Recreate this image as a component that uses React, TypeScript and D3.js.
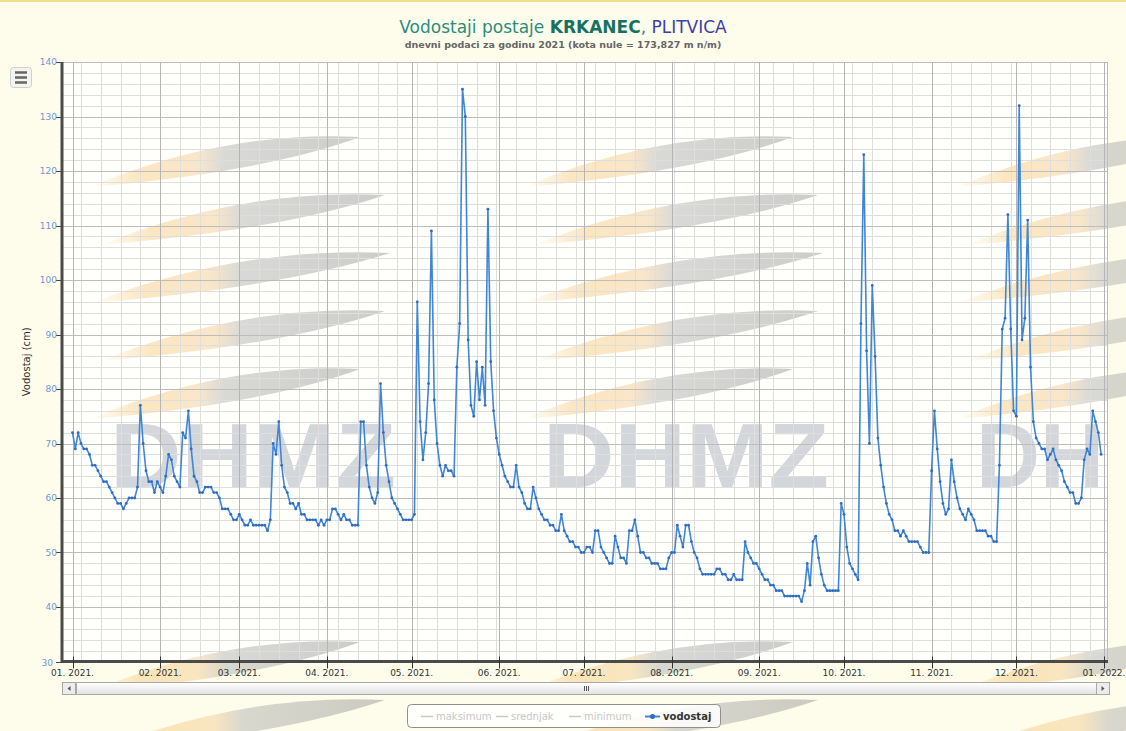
import React from 'react';
import * as d3 from 'd3';

const useD3 = (renderChart: any, dependencies: any[]) => {
  const ref = React.useRef<SVGSVGElement>(null);

  React.useEffect(() => {
    renderChart(d3.select(ref.current));
  }, dependencies);

  return ref;
};

// daily water level (cm), 2021, one array per month
const jan = [72, 69, 72, 70, 69, 69, 68, 66, 66, 65, 64, 63, 63, 62, 61, 60, 59, 59, 58, 59, 60, 60, 60, 62, 77, 70, 65, 63, 63, 61, 63];
const feb = [62, 61, 64, 68, 67, 64, 63, 62, 72, 71, 76, 69, 64, 63, 61, 61, 62, 62, 62, 61, 61, 60, 58, 58, 58, 57, 56, 56];
const mar = [57, 56, 55, 55, 56, 55, 55, 55, 55, 55, 54, 56, 70, 68, 74, 66, 62, 61, 59, 59, 58, 59, 57, 57, 56, 56, 56, 56, 55, 56, 55];
const apr = [56, 56, 58, 58, 57, 56, 57, 56, 56, 55, 55, 55, 74, 74, 66, 62, 60, 59, 61, 81, 72, 66, 63, 60, 59, 58, 57, 56, 56, 56];
const may = [56, 57, 96, 74, 67, 72, 81, 109, 78, 70, 66, 64, 66, 65, 65, 64, 84, 92, 135, 130, 89, 77, 75, 85, 78, 84, 77, 113, 85, 76, 71];
const jun = [68, 66, 64, 63, 62, 62, 66, 62, 61, 59, 58, 58, 62, 60, 58, 57, 56, 56, 55, 55, 54, 54, 57, 54, 53, 52, 52, 51, 51, 50];
const jul = [50, 51, 51, 50, 54, 54, 51, 50, 49, 48, 48, 53, 51, 49, 49, 48, 54, 54, 56, 53, 50, 50, 49, 49, 48, 48, 48, 47, 47, 47, 49];
const aug = [50, 50, 55, 53, 51, 55, 55, 52, 50, 49, 47, 46, 46, 46, 46, 46, 47, 47, 46, 46, 45, 45, 46, 45, 45, 45, 52, 50, 49, 48, 48];
const sep = [47, 46, 45, 45, 44, 44, 43, 43, 43, 42, 42, 42, 42, 42, 42, 41, 43, 48, 44, 52, 53, 49, 46, 44, 43, 43, 43, 43, 43, 59];
const oct = [57, 51, 48, 47, 46, 45, 92, 123, 87, 70, 99, 86, 71, 66, 62, 59, 57, 56, 54, 54, 53, 54, 53, 52, 52, 52, 52, 51, 50, 50, 50];
const nov = [65, 76, 69, 63, 59, 57, 58, 67, 63, 60, 58, 57, 56, 58, 57, 56, 54, 54, 54, 54, 53, 53, 52, 52, 66, 91, 93, 112, 91, 76];
const dec = [75, 132, 89, 93, 111, 84, 74, 71, 70, 69, 69, 67, 68, 69, 67, 66, 65, 63, 62, 61, 61, 59, 59, 60, 67, 69, 68, 76, 74, 72, 68];

const monthLabels = ['01. 2021.', '02. 2021.', '03. 2021.', '04. 2021.', '05. 2021.', '06. 2021.', '07. 2021.', '08. 2021.', '09. 2021.', '10. 2021.', '11. 2021.', '12. 2021.', '01. 2022.'];
const yTicks = [30, 40, 50, 60, 70, 80, 90, 100, 110, 120, 130, 140];
const legendItems = ['maksimum', 'srednjak', 'minimum', 'vodostaj'];

const levels = [jan, feb, mar, apr, may, jun, jul, aug, sep, oct, nov, dec].flat();
const DAY = 864e5;
const start = Date.UTC(2021, 0, 1);
const series = levels.map((v, i) => ({ date: new Date(start + i * DAY), value: v }));

const FONT = '"DejaVu Sans", Verdana, sans-serif';
const LINE = '#3f86d8';

const renderChart = (svg: any) => {
  svg.selectAll('*').remove();
  const width = 1126;
  const height = 731;
  const margin = { top: 62, right: 18, bottom: 70, left: 62 };
  const bottom = height - margin.bottom + 0.5;
  const right = width - margin.right;

  const x = d3
    .scaleUtc()
    .domain([new Date(start - 3.72 * DAY), new Date(start + 366.42 * DAY)])
    .range([margin.left, right]);
  const y = d3.scaleLinear().domain([30, 140]).range([bottom, margin.top]);

  const defs = svg.append('defs');
  const grad = defs.append('linearGradient').attr('id', 'blade');
  grad.append('stop').attr('offset', '0%').attr('stop-color', '#f6c878').attr('stop-opacity', 0);
  grad.append('stop').attr('offset', '18%').attr('stop-color', '#f6c878').attr('stop-opacity', 0.45);
  grad.append('stop').attr('offset', '40%').attr('stop-color', '#f2c27e').attr('stop-opacity', 0.4);
  grad.append('stop').attr('offset', '50%').attr('stop-color', '#a4a4a4').attr('stop-opacity', 0.42);
  grad.append('stop').attr('offset', '100%').attr('stop-color', '#989898').attr('stop-opacity', 0.5);
  const thumb = defs.append('linearGradient').attr('id', 'thumb').attr('x1', 0).attr('x2', 0).attr('y1', 0).attr('y2', 1);
  thumb.append('stop').attr('offset', '0%').attr('stop-color', '#ffffff');
  thumb.append('stop').attr('offset', '100%').attr('stop-color', '#e2e2e2');
  defs.append('clipPath').attr('id', 'plot-clip')
    .append('rect').attr('x', margin.left).attr('y', margin.top)
    .attr('width', right - margin.left).attr('height', bottom - margin.top);

  svg.append('rect').attr('width', width).attr('height', height).attr('fill', '#fefdec');
  svg.append('rect').attr('width', width).attr('height', 2).attr('fill', '#f1dd8e');
  svg.append('rect')
    .attr('x', margin.left).attr('y', margin.top)
    .attr('width', right - margin.left).attr('height', bottom - margin.top)
    .attr('fill', '#ffffff').attr('fill-opacity', 0.8);

  // watermark tiles
  const wm = svg.append('g').attr('class', 'watermark');
  [0, 1, 2].forEach((i) => {
    [0, 1].forEach((j) => {
      const ox = 110 + i * 433;
      const oy = 487 + j * 505;
      [0, 1, 2, 3, 4].forEach((k) => {
        const x0 = ox - 20 + (k % 2) * 10;
        const y0 = oy - 330 + k * 58 + 30;
        const len = 300 - Math.abs(k - 2) * 15;
        const x1 = x0 + len;
        const y1 = y0 - 50;
        const mx = (x0 + x1) / 2;
        const my = (y0 + y1) / 2;
        wm.append('path')
          .attr('d', `M${x0},${y0} Q${mx},${my - 32} ${x1},${y1} Q${mx + 40},${my + 10} ${x0},${y0}Z`)
          .attr('fill', 'url(#blade)');
      });
      if (j === 0) {
        const word = i === 2 ? 'DH' : 'DHMZ';
        wm.append('text')
          .attr('x', ox)
          .attr('y', oy)
          .attr('clip-path', 'url(#plot-clip)')
          .attr('font-family', '"Liberation Sans", Arial, sans-serif')
          .attr('font-weight', 'bold')
          .attr('font-size', 91)
          .attr('textLength', i === 2 ? 128 : 286)
          .attr('lengthAdjust', 'spacingAndGlyphs')
          .attr('fill', '#d3d6db')
          .text(word);
      }
    });
  });

  // grid
  const grid = svg.append('g').attr('class', 'grid');
  grid.selectAll('.hminor')
    .data(d3.range(30, 141, 2).filter((v) => v % 10 !== 0))
    .join('line')
    .attr('x1', margin.left).attr('x2', right)
    .attr('y1', (d: number) => Math.round(y(d)) + 0.5).attr('y2', (d: number) => Math.round(y(d)) + 0.5)
    .attr('stroke', '#dedede');
  const weeks = d3.utcMonday.range(x.domain()[0], x.domain()[1]);
  grid.selectAll('.vminor')
    .data(weeks)
    .join('line')
    .attr('x1', (d: Date) => Math.round(x(d)) + 0.5).attr('x2', (d: Date) => Math.round(x(d)) + 0.5)
    .attr('y1', margin.top).attr('y2', bottom)
    .attr('stroke', '#dedede');
  grid.selectAll('.hmajor')
    .data(yTicks)
    .join('line')
    .attr('x1', margin.left).attr('x2', right)
    .attr('y1', (d: number) => Math.round(y(d)) + 0.5).attr('y2', (d: number) => Math.round(y(d)) + 0.5)
    .attr('stroke', '#bdbdbd');
  const months = d3.utcMonth.range(new Date(start), new Date(Date.UTC(2022, 0, 2)));
  grid.selectAll('.vmajor')
    .data(months)
    .join('line')
    .attr('x1', (d: Date) => Math.round(x(d)) + 0.5).attr('x2', (d: Date) => Math.round(x(d)) + 0.5)
    .attr('y1', margin.top).attr('y2', bottom)
    .attr('stroke', '#b5b5b5');
  grid.append('line')
    .attr('x1', right - 0.5).attr('x2', right - 0.5)
    .attr('y1', margin.top).attr('y2', bottom)
    .attr('stroke', '#bdbdbd');

  // axes
  const axes = svg.append('g').attr('font-family', FONT);
  axes.selectAll('.ytick')
    .data(yTicks)
    .join('line')
    .attr('x1', margin.left - 6).attr('x2', margin.left)
    .attr('y1', (d: number) => Math.round(y(d)) + 0.5).attr('y2', (d: number) => Math.round(y(d)) + 0.5)
    .attr('stroke', '#444');
  axes.selectAll('.ylabel')
    .data(yTicks)
    .join('text')
    .attr('x', (d: number) => (d === 30 ? 53 : 57))
    .attr('y', (d: number) => y(d) + (d === 30 ? 4 : 3))
    .attr('text-anchor', 'end')
    .attr('font-size', 9)
    .attr('fill', '#6f95d8')
    .text((d: number) => d);
  axes.append('text')
    .attr('transform', `translate(30,${(margin.top + bottom) / 2}) rotate(-90)`)
    .attr('text-anchor', 'middle')
    .attr('font-size', 10)
    .attr('fill', '#333')
    .text('Vodostaj (cm)');
  axes.append('line')
    .attr('x1', margin.left).attr('x2', margin.left)
    .attr('y1', margin.top).attr('y2', bottom + 1)
    .attr('stroke', '#4a4a4a').attr('stroke-width', 3);
  axes.append('line')
    .attr('x1', margin.left).attr('x2', right)
    .attr('y1', bottom).attr('y2', bottom)
    .attr('stroke', '#4a4a4a').attr('stroke-width', 3);
  axes.selectAll('.xtick')
    .data(months)
    .join('line')
    .attr('x1', (d: Date) => Math.round(x(d)) + 0.5).attr('x2', (d: Date) => Math.round(x(d)) + 0.5)
    .attr('y1', bottom - 5).attr('y2', bottom + 7)
    .attr('stroke', '#333');
  axes.selectAll('.xlabel')
    .data(months)
    .join('text')
    .attr('x', (d: Date) => x(d))
    .attr('y', bottom + 14)
    .attr('text-anchor', 'middle')
    .attr('font-size', 9)
    .attr('fill', '#333')
    .text((_: Date, i: number) => monthLabels[i]);

  // series
  const line = d3.line<any>().x((d) => x(d.date)).y((d) => y(d.value));
  svg.append('path')
    .datum(series)
    .attr('d', line)
    .attr('fill', 'none')
    .attr('stroke', LINE)
    .attr('stroke-width', 1.6)
    .attr('stroke-linejoin', 'round');
  svg.append('g')
    .selectAll('circle')
    .data(series)
    .join('circle')
    .attr('cx', (d: any) => x(d.date))
    .attr('cy', (d: any) => y(d.value))
    .attr('r', 1.4)
    .attr('fill', '#2f6cbf');

  // scrollbar
  const sb = svg.append('g');
  const sbY = 682;
  const sbH = 12;
  sb.append('rect').attr('x', 62.5).attr('y', sbY + 0.5).attr('width', 1047).attr('height', sbH)
    .attr('fill', '#f2f2f2').attr('stroke', '#b8b8b8');
  sb.append('rect').attr('x', 76.5).attr('y', sbY + 0.5).attr('width', 1020).attr('height', sbH)
    .attr('rx', 1).attr('fill', 'url(#thumb)').attr('stroke', '#a8a8a8');
  [62.5, 1096.5].forEach((bx, i) => {
    sb.append('rect').attr('x', bx).attr('y', sbY + 0.5).attr('width', 13).attr('height', sbH)
      .attr('fill', '#ececec').attr('stroke', '#a8a8a8');
    const cx = bx + 6.5;
    const cy = sbY + 6.5;
    sb.append('path')
      .attr('d', i === 0 ? `M${cx + 1.5},${cy - 2.5} L${cx - 1.5},${cy} L${cx + 1.5},${cy + 2.5}Z` : `M${cx - 1.5},${cy - 2.5} L${cx + 1.5},${cy} L${cx - 1.5},${cy + 2.5}Z`)
      .attr('fill', '#555');
  });
  [-2, 0, 2].forEach((dx) => {
    sb.append('line').attr('x1', 586.5 + dx).attr('x2', 586.5 + dx).attr('y1', sbY + 4).attr('y2', sbY + 9)
      .attr('stroke', '#555');
  });

  // legend
  const lg = svg.append('g').attr('font-family', FONT).attr('font-size', 10);
  lg.append('rect').attr('x', 407.5).attr('y', 704.5).attr('width', 313).attr('height', 23).attr('rx', 4)
    .attr('fill', '#ffffff').attr('fill-opacity', 0.85).attr('stroke', '#8f8f8f');
  const lx = [421, 496, 569, 645];
  legendItems.forEach((name, i) => {
    const active = name === 'vodostaj';
    lg.append('line').attr('x1', lx[i]).attr('x2', lx[i] + (active ? 15 : 12))
      .attr('y1', 716.5).attr('y2', 716.5)
      .attr('stroke', active ? LINE : '#c8c8c8').attr('stroke-width', active ? 2 : 1.5);
    if (active) {
      lg.append('circle').attr('cx', lx[i] + 7.5).attr('cy', 716.5).attr('r', 2.5).attr('fill', '#2f6cbf');
    }
    lg.append('text')
      .attr('x', lx[i] + (active ? 18 : 15))
      .attr('y', 720)
      .attr('font-weight', active ? 'bold' : 'normal')
      .attr('fill', active ? '#333' : '#c8c8c8')
      .text(name);
  });

  // title
  const title = svg.append('text')
    .attr('x', 563).attr('y', 33)
    .attr('text-anchor', 'middle')
    .attr('font-family', FONT)
    .attr('font-size', 17);
  title.append('tspan').attr('fill', '#2b8c7c').text('Vodostaji postaje ');
  title.append('tspan').attr('fill', '#157261').attr('font-weight', 'bold').text('KRKANEC');
  title.append('tspan').attr('fill', '#2b8c7c').text(', ');
  title.append('tspan').attr('fill', '#3b3fa8').text('PLITVICA');
  svg.append('text')
    .attr('x', 563).attr('y', 48)
    .attr('text-anchor', 'middle')
    .attr('font-family', FONT)
    .attr('font-size', 9.5)
    .attr('font-weight', 'bold')
    .attr('fill', '#666')
    .text('dnevni podaci za godinu 2021 (kota nule = 173,827 m n/m)');

  // menu button
  const menu = svg.append('g');
  menu.append('rect').attr('x', 10.5).attr('y', 67.5).attr('width', 21).attr('height', 20).attr('rx', 3)
    .attr('fill', '#f4f4f0').attr('stroke', '#cfcfcf');
  [72.5, 77.5, 82.5].forEach((ly) => {
    menu.append('line').attr('x1', 15).attr('x2', 27).attr('y1', ly).attr('y2', ly)
      .attr('stroke', '#666').attr('stroke-width', 2.5);
  });
};

const App: React.FC = () => {
  const ref = useD3(renderChart, [levels]);

  return (
    <div style={{ position: 'fixed', left: 0, top: 0 }}>
      <svg ref={ref} width={1126} height={731} style={{ display: 'block' }} />
    </div>
  );
};

export default App;
